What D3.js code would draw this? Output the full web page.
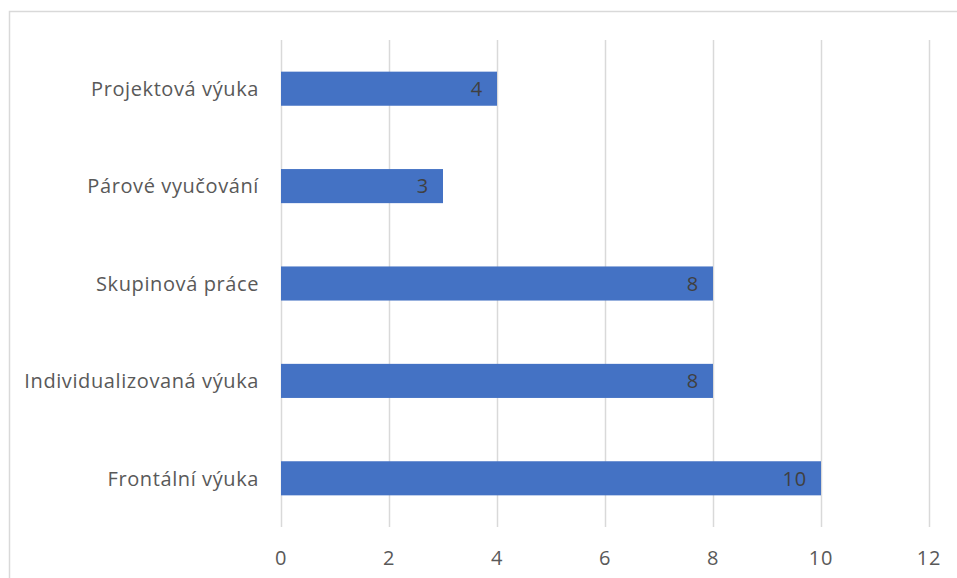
<!DOCTYPE html>
<html><head><meta charset="utf-8">
<script src="https://cdn.jsdelivr.net/npm/d3@7"></script>
<style>html,body{margin:0;padding:0;background:#fff;overflow:hidden}</style>
</head><body>
<script>
const categories = ["Projektová výuka","Párové vyučování","Skupinová práce","Individualizovaná výuka","Frontální výuka"];
const values = [4,3,8,8,10];
const tickValues = [0,2,4,6,8,10,12];

const W=957,H=578;
const svg=d3.select("body").append("svg").attr("width",W).attr("height",H);
svg.append("rect").attr("x",9.5).attr("y",11.5).attr("width",W).attr("height",H).attr("fill","#fff").attr("stroke","#d9d9d9").attr("stroke-width",1.5);

const x=d3.scaleLinear().domain([0,12]).range([281,929]);
const y=d3.scaleBand().domain(categories).range([40,527]).paddingInner(0.65).paddingOuter(0.325);
const font="'Open Sans', sans-serif";

svg.append("g").selectAll("line").data(tickValues).join("line")
  .attr("x1",d=>x(d)+0.5).attr("x2",d=>x(d)+0.5).attr("y1",40).attr("y2",527)
  .attr("stroke","#d9d9d9").attr("stroke-width",1.5);

svg.append("g").selectAll("rect").data(categories).join("rect")
  .attr("x",x(0)).attr("y",d=>y(d)).attr("width",(d,i)=>x(values[i])-x(0)).attr("height",y.bandwidth())
  .attr("fill","#4472C4");

svg.append("g").selectAll("text").data(categories).join("text")
  .attr("x",(d,i)=>x(values[i])-14).attr("y",d=>y(d)+y.bandwidth()/2).attr("dy","0.36em")
  .attr("text-anchor","end").attr("font-family",font).attr("font-size",20).attr("letter-spacing",0.8).attr("fill","#404040")
  .text((d,i)=>values[i]);

svg.append("g").selectAll("text").data(categories).join("text")
  .attr("x",259).attr("y",d=>y(d)+y.bandwidth()/2).attr("dy","0.36em")
  .attr("text-anchor","end").attr("font-family",font).attr("font-size",20).attr("letter-spacing",0.6).attr("fill","#595959")
  .text(d=>d);

svg.append("g").selectAll("text").data(tickValues).join("text")
  .attr("x",d=>x(d)).attr("y",558).attr("dy","0.36em")
  .attr("text-anchor","middle").attr("font-family",font).attr("font-size",20).attr("letter-spacing",0.8).attr("fill","#595959")
  .text(d=>d);
</script>
</body></html>
